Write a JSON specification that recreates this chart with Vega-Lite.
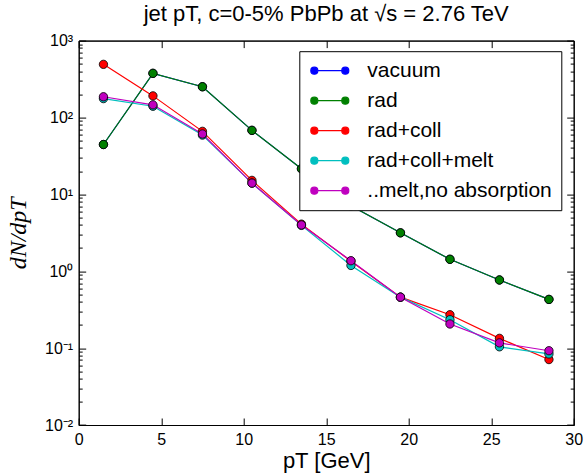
{
  "$schema": "https://vega.github.io/schema/vega-lite/v6.json",
  "width": 495,
  "height": 384.4,
  "autosize": "none",
  "padding": {"left": 78.7, "top": 40.6, "right": 12.3, "bottom": 49},
  "background": "white",
  "title": {"text": "jet pT, c=0-5% PbPb at √s = 2.76 TeV", "font": "Liberation Sans", "fontSize": 22, "fontWeight": "normal", "color": "black", "offset": 7, "anchor": "middle"},
  "data": {"values": [
    {"s": "vacuum", "pt": 1.5, "v": 44.5}, {"s": "vacuum", "pt": 4.5, "v": 375}, {"s": "vacuum", "pt": 7.5, "v": 251}, {"s": "vacuum", "pt": 10.5, "v": 68}, {"s": "vacuum", "pt": 13.5, "v": 21.5}, {"s": "vacuum", "pt": 16.5, "v": 7.1}, {"s": "vacuum", "pt": 19.5, "v": 3.16}, {"s": "vacuum", "pt": 22.5, "v": 1.43}, {"s": "vacuum", "pt": 25.5, "v": 0.77}, {"s": "vacuum", "pt": 28.5, "v": 0.43},
    {"s": "rad", "pt": 1.5, "v": 44.5}, {"s": "rad", "pt": 4.5, "v": 375}, {"s": "rad", "pt": 7.5, "v": 251}, {"s": "rad", "pt": 10.5, "v": 68}, {"s": "rad", "pt": 13.5, "v": 21.5}, {"s": "rad", "pt": 16.5, "v": 7.1}, {"s": "rad", "pt": 19.5, "v": 3.16}, {"s": "rad", "pt": 22.5, "v": 1.43}, {"s": "rad", "pt": 25.5, "v": 0.77}, {"s": "rad", "pt": 28.5, "v": 0.43},
    {"s": "rad+coll", "pt": 1.5, "v": 491}, {"s": "rad+coll", "pt": 4.5, "v": 191}, {"s": "rad+coll", "pt": 7.5, "v": 66}, {"s": "rad+coll", "pt": 10.5, "v": 15.2}, {"s": "rad+coll", "pt": 13.5, "v": 4.1}, {"s": "rad+coll", "pt": 16.5, "v": 1.35}, {"s": "rad+coll", "pt": 19.5, "v": 0.46}, {"s": "rad+coll", "pt": 22.5, "v": 0.272}, {"s": "rad+coll", "pt": 25.5, "v": 0.134}, {"s": "rad+coll", "pt": 28.5, "v": 0.071},
    {"s": "rad+coll+melt", "pt": 1.5, "v": 176}, {"s": "rad+coll+melt", "pt": 4.5, "v": 140}, {"s": "rad+coll+melt", "pt": 7.5, "v": 59}, {"s": "rad+coll+melt", "pt": 10.5, "v": 14.0}, {"s": "rad+coll+melt", "pt": 13.5, "v": 3.95}, {"s": "rad+coll+melt", "pt": 16.5, "v": 1.19}, {"s": "rad+coll+melt", "pt": 19.5, "v": 0.46}, {"s": "rad+coll+melt", "pt": 22.5, "v": 0.234}, {"s": "rad+coll+melt", "pt": 25.5, "v": 0.104}, {"s": "rad+coll+melt", "pt": 28.5, "v": 0.084},
    {"s": "..melt,no absorption", "pt": 1.5, "v": 186}, {"s": "..melt,no absorption", "pt": 4.5, "v": 146}, {"s": "..melt,no absorption", "pt": 7.5, "v": 61}, {"s": "..melt,no absorption", "pt": 10.5, "v": 14.0}, {"s": "..melt,no absorption", "pt": 13.5, "v": 4.0}, {"s": "..melt,no absorption", "pt": 16.5, "v": 1.37}, {"s": "..melt,no absorption", "pt": 19.5, "v": 0.46}, {"s": "..melt,no absorption", "pt": 22.5, "v": 0.206}, {"s": "..melt,no absorption", "pt": 25.5, "v": 0.117}, {"s": "..melt,no absorption", "pt": 28.5, "v": 0.0925}
  ]},
  "resolve": {"axis": {"x": "independent", "y": "independent"}},
  "layer": [
    {
      "mark": {"type": "line", "strokeWidth": 1.2},
      "encoding": {
        "x": {"field": "pt", "type": "quantitative",
              "scale": {"domain": [0, 30], "nice": false, "zero": false},
              "axis": {"orient": "bottom", "values": [0, 5, 10, 15, 20, 25, 30], "tickSize": -7, "labelPadding": 13, "labelFontSize": 16,
                       "title": "pT [GeV]", "titleFontSize": 22, "titleFont": "Liberation Sans", "titleFontWeight": "normal", "titleX": 247.5, "titleY": 35, "titleBaseline": "middle", "titleAlign": "center"}},
        "y": {"field": "v", "type": "quantitative",
              "scale": {"type": "log", "domain": [0.01, 1000], "nice": false},
              "axis": {"orient": "left",
                       "values": [0.01,0.02,0.03,0.04,0.05,0.06,0.07,0.08,0.09,0.1,0.2,0.3,0.4,0.5,0.6,0.7,0.8,0.9,1,2,3,4,5,6,7,8,9,10,20,30,40,50,60,70,80,90,100,200,300,400,500,600,700,800,900,1000],
                       "labelExpr": "datum.value==1000?'10³':datum.value==100?'10²':datum.value==10?'10¹':datum.value==1?'10⁰':datum.value==0.1?'10⁻¹':datum.value==0.01?'10⁻²':''",
                       "tickSize": {"condition": {"test": "abs(log(datum.value)/LN10 - round(log(datum.value)/LN10)) < 0.001", "value": -7}, "value": -3.5},
                       "labelPadding": 13, "labelFontSize": 16,
                       "title": "dN/dpT", "titleFont": "Liberation Serif", "titleFontStyle": "italic", "titleFontWeight": "normal", "titleFontSize": 24,
                       "titleX": -60, "titleY": 192.2, "titleAngle": -90, "titleAlign": "center", "titleBaseline": "middle"}},
        "color": {"field": "s", "type": "nominal",
                  "scale": {"domain": ["vacuum", "rad", "rad+coll", "rad+coll+melt", "..melt,no absorption"], "range": ["#0000ff", "#008000", "#ff0000", "#00bfbf", "#bf00bf"]},
                  "legend": {"symbolType": "M-2,0 A0.37,0.37 0 1,0 -1.26,0 A0.37,0.37 0 1,0 -2,0 Z M-1.26,0 L1.26,0 M1.26,0 A0.37,0.37 0 1,0 2,0 A0.37,0.37 0 1,0 1.26,0 Z"}},
        "order": {"field": "pt", "type": "quantitative"}
      }
    },
    {
      "mark": {"type": "point", "filled": true, "size": 70, "stroke": "black", "strokeWidth": 0.8, "opacity": 1},
      "encoding": {
        "x": {"field": "pt", "type": "quantitative",
              "axis": {"orient": "top", "values": [0, 5, 10, 15, 20, 25, 30], "tickSize": -7, "labels": false, "title": null}},
        "y": {"field": "v", "type": "quantitative",
              "axis": {"orient": "right",
                       "values": [0.01,0.02,0.03,0.04,0.05,0.06,0.07,0.08,0.09,0.1,0.2,0.3,0.4,0.5,0.6,0.7,0.8,0.9,1,2,3,4,5,6,7,8,9,10,20,30,40,50,60,70,80,90,100,200,300,400,500,600,700,800,900,1000],
                       "tickSize": {"condition": {"test": "abs(log(datum.value)/LN10 - round(log(datum.value)/LN10)) < 0.001", "value": -7}, "value": -3.5},
                       "labels": false, "title": null}},
        "color": {"field": "s", "type": "nominal",
                  "legend": {"symbolType": "M-2,0 A0.37,0.37 0 1,0 -1.26,0 A0.37,0.37 0 1,0 -2,0 Z M-1.26,0 L1.26,0 M1.26,0 A0.37,0.37 0 1,0 2,0 A0.37,0.37 0 1,0 1.26,0 Z"}}
      }
    }
  ],
  "config": {
    "view": {"stroke": "black", "strokeWidth": 1},
    "axis": {"grid": false, "domainColor": "black", "domainWidth": 1, "tickColor": "black", "tickWidth": 1, "labelColor": "black", "labelFont": "Liberation Sans", "titleColor": "black", "labelFlush": false, "labelOverlap": false},
    "legend": {
      "orient": "none", "legendX": 220.6, "legendY": 10.6, "title": null,
      "strokeColor": "black", "strokeWidth": 1, "fillColor": "white", "padding": 9, "cornerRadius": 0,
      "symbolSize": 361, "symbolStrokeWidth": 1.2, "symbolOffset": 11, "labelOffset": 27,
      "labelFont": "Liberation Sans", "labelFontSize": 21, "labelColor": "black", "labelLimit": 400, "rowPadding": 8,
      "encode": {"symbols": {"update": {"fill": {"scale": "color", "field": "value"}, "stroke": {"scale": "color", "field": "value"}, "opacity": {"value": 1}}}}
    }
  }
}
